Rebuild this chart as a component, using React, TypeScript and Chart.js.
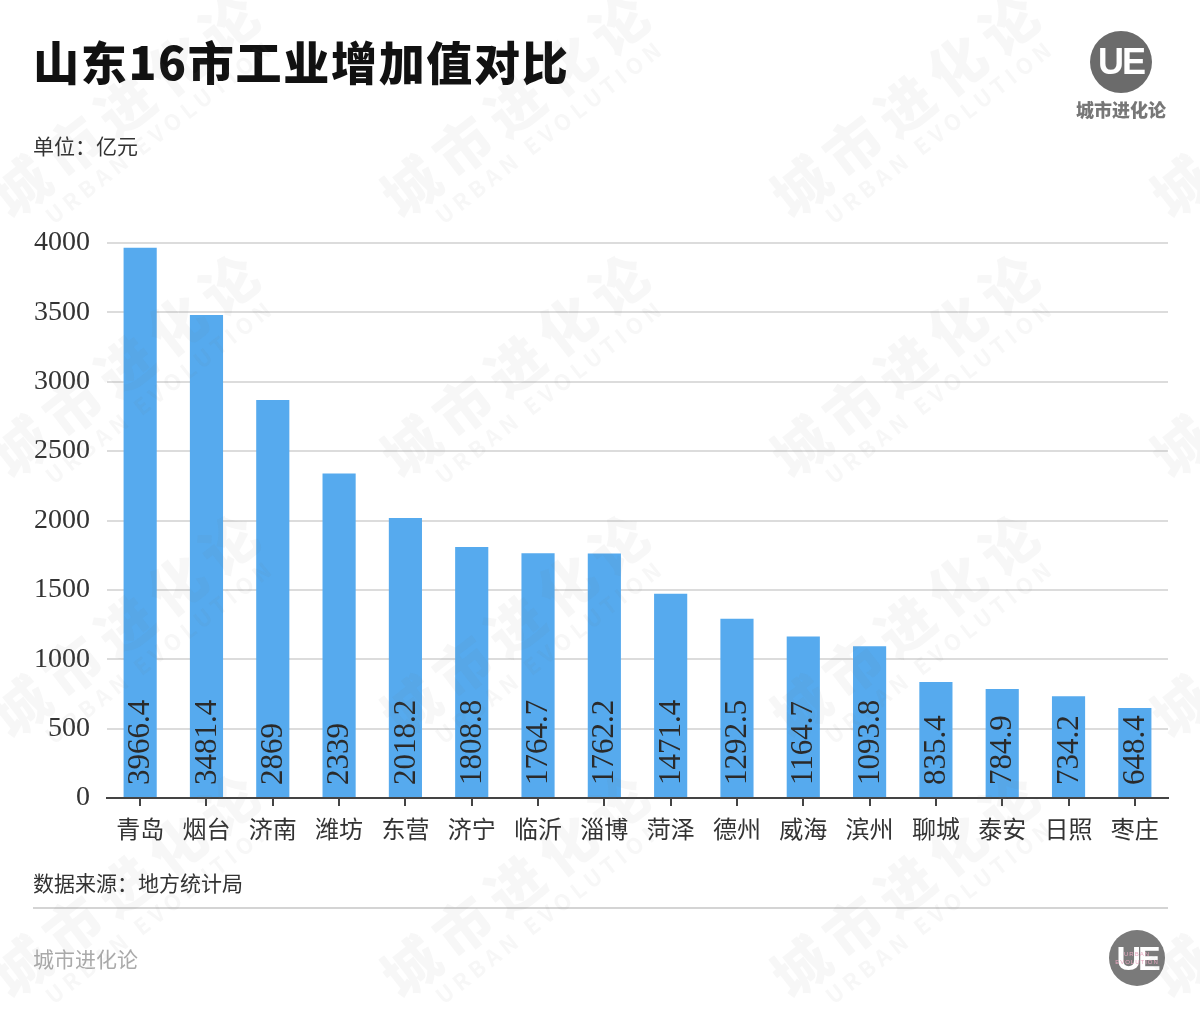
import React, { useEffect, useRef } from "react";
import { Chart, registerables } from "chart.js";

Chart.register(...registerables);

const categories = ["青岛", "烟台", "济南", "潍坊", "东营", "济宁", "临沂", "淄博", "菏泽", "德州", "威海", "滨州", "聊城", "泰安", "日照", "枣庄"];
const values = [3966.4, 3481.4, 2869, 2339, 2018.2, 1808.8, 1764.7, 1762.2, 1471.4, 1292.5, 1164.7, 1093.8, 835.4, 784.9, 734.2, 648.4];
const valueLabels = ["3966.4", "3481.4", "2869", "2339", "2018.2", "1808.8", "1764.7", "1762.2", "1471.4", "1292.5", "1164.7", "1093.8", "835.4", "784.9", "734.2", "648.4"];
const yMin = 0;
const yMax = 4000;
const yStep = 500;

const titleText = "山东16市工业增加值对比";
const unitText = "单位：亿元";
const sourceText = "数据来源：地方统计局";
const brandText = "城市进化论";

const CJK = '"Noto Sans CJK SC", "Noto Sans", sans-serif';
const NUM = '"Liberation Serif", "DejaVu Serif", serif';

const barLabelPlugin = {
  id: "barLabels",
  afterDatasetsDraw(chart: any) {
    const ctx = chart.ctx;
    const meta = chart.getDatasetMeta(0);
    ctx.save();
    ctx.font = '31px "Liberation Serif", "DejaVu Serif", serif';
    ctx.fillStyle = "#2a2a2a";
    ctx.textAlign = "left";
    ctx.textBaseline = "middle";
    meta.data.forEach((bar: any, i: number) => {
      ctx.save();
      ctx.translate(bar.x, bar.base - 12);
      ctx.rotate(-Math.PI / 2);
      ctx.fillText(valueLabels[i], 0, 1);
      ctx.restore();
    });
    ctx.restore();
  },
};

const watermarkPositions = [
  [-20, 60], [370, 60], [760, 60], [1140, 60],
  [-20, 320], [370, 320], [760, 320], [1140, 320],
  [-20, 580], [370, 580], [760, 580], [1140, 580],
  [-20, 840], [370, 840], [760, 840], [1140, 840],
];

function Watermark({ x, y }: { x: number; y: number }) {
  return (
    <div
      style={{
        position: "absolute",
        left: x,
        top: y,
        transform: "rotate(-38deg)",
        transformOrigin: "left top",
        pointerEvents: "none",
        color: "rgba(120,120,120,0.06)",
        fontFamily: CJK,
        whiteSpace: "nowrap",
        lineHeight: 1,
      }}
    >
      <div style={{ fontSize: 56, fontWeight: 900, letterSpacing: 10 }}>{brandText}</div>
      <div style={{ fontSize: 22, fontWeight: 700, letterSpacing: 5, marginTop: 4, marginLeft: 30 }}>URBAN EVOLUTION</div>
    </div>
  );
}

export default function App() {
  const canvasRef = useRef<HTMLCanvasElement>(null);

  useEffect(() => {
    document.body.style.margin = "0";
    const canvas = canvasRef.current;
    if (!canvas) return;
    const chart = new Chart(canvas, {
      type: "bar",
      data: {
        labels: categories,
        datasets: [
          {
            data: values,
            backgroundColor: "#56aaee",
            barPercentage: 0.5,
            categoryPercentage: 1,
          },
        ],
      },
      options: {
        responsive: false,
        animation: false,
        devicePixelRatio: 1,
        layout: { padding: { top: 243, left: 0, right: 32, bottom: 162 } },
        plugins: { legend: { display: false }, tooltip: { enabled: false } },
        scales: {
          x: {
            afterFit: (scale: any) => {
              scale.height = 60;
            },
            grid: {
              display: true,
              drawOnChartArea: false,
              drawTicks: true,
              tickLength: 8,
              offset: false,
              color: "#444",
              lineWidth: 2,
            },
            border: { display: true, color: "#444", width: 2 },
            ticks: {
              font: { family: CJK, size: 24 },
              color: "#333",
              padding: 8,
              maxRotation: 0,
              autoSkip: false,
            },
          },
          y: {
            min: yMin,
            max: yMax,
            afterFit: (scale: any) => {
              scale.width = 107;
            },
            grid: { color: "#dcdcdc", lineWidth: 2, drawTicks: false },
            border: { display: false },
            ticks: {
              stepSize: yStep,
              padding: 17,
              font: { family: NUM, size: 28 },
              color: "#333",
              callback: (v: any) => String(v),
            },
          },
        },
      },
      plugins: [barLabelPlugin],
    });
    return () => chart.destroy();
  }, []);

  return (
    <div style={{ position: "relative", width: 1200, height: 1020, background: "#fff", overflow: "hidden", fontFamily: CJK }}>
      <canvas ref={canvasRef} width={1200} height={1020} style={{ position: "absolute", left: 0, top: 0, width: 1200, height: 1020 }} />
      <div style={{ position: "absolute", left: 33, top: 30, fontSize: 46, fontWeight: 900, color: "#111", letterSpacing: 1.7, lineHeight: "60px", whiteSpace: "nowrap" }}>
        {titleText}
      </div>
      <div style={{ position: "absolute", left: 33, top: 130, fontSize: 21, color: "#333", lineHeight: "30px" }}>{unitText}</div>
      <div style={{ position: "absolute", left: 33, top: 867, fontSize: 21, color: "#333", lineHeight: "30px" }}>{sourceText}</div>
      <div style={{ position: "absolute", left: 33, top: 907, width: 1135, height: 2, background: "#d4d4d4" }} />
      <div style={{ position: "absolute", left: 33, top: 943, fontSize: 21, color: "#aaa", lineHeight: "30px" }}>{brandText}</div>

      {/* top-right logo */}
      <div style={{ position: "absolute", left: 1090, top: 31, width: 62, height: 62, borderRadius: "50%", background: "#6b6b6b", color: "#fff", display: "flex", alignItems: "center", justifyContent: "center", fontFamily: '"Liberation Sans", sans-serif', fontWeight: 700, fontSize: 36, letterSpacing: -2 }}>
        UE
      </div>
      <div style={{ position: "absolute", left: 1061, top: 96, width: 120, textAlign: "center", fontSize: 18, fontWeight: 900, color: "#777", lineHeight: "26px" }}>{brandText}</div>

      {/* bottom-right logo */}
      <div style={{ position: "absolute", left: 1109, top: 930, width: 56, height: 56, borderRadius: "50%", background: "#7a7a7a", color: "#fff", display: "flex", alignItems: "center", justifyContent: "center", fontFamily: '"Liberation Sans", sans-serif', fontWeight: 700, fontSize: 34, letterSpacing: -3, overflow: "hidden" }}>
        UE
      </div>
      <div style={{ position: "absolute", left: 1109, top: 950, width: 56, textAlign: "center", fontSize: 6, color: "#e8a8c0", letterSpacing: 1, lineHeight: "8px", fontFamily: '"Liberation Sans", sans-serif' }}>
        URBAN<br />EVOLUTION
      </div>

      {watermarkPositions.map(([x, y], i) => (
        <Watermark key={i} x={x} y={y + 120} />
      ))}
    </div>
  );
}
